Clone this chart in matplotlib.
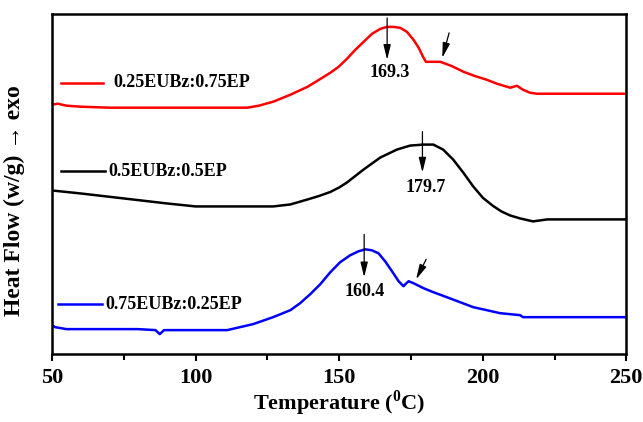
"""
DSC curves of EUBz:EP blends, heat flow vs temperature.
"""

import matplotlib
matplotlib.use("Agg")
import matplotlib.pyplot as plt
from matplotlib.ticker import MultipleLocator

plt.rcParams["font.family"] = ["Liberation Serif", "DejaVu Sans"]
plt.rcParams["font.weight"] = "bold"
plt.rcParams["mathtext.fontset"] = "custom"
plt.rcParams["mathtext.rm"] = "Liberation Serif:bold"
plt.rcParams["mathtext.bf"] = "Liberation Serif:bold"

# 0.25EUBz:0.75EP (red)
T_RED = [50, 52, 55, 60, 70, 80, 90, 100, 110, 118, 122, 127, 133, 139, 143,
         146.9, 149.8, 152.7, 155.6, 158.5, 161.4, 164.3, 166.6, 168.9, 171.3,
         173.6, 175.9, 177.7, 179.2, 180.2, 185.2, 189, 193.3, 197, 201.4, 205,
         209.6, 211.9, 214, 216.5, 218.8, 250]
HF_RED = [2.50, 2.51, 2.49, 2.48, 2.47, 2.47, 2.47, 2.47, 2.47, 2.47, 2.49, 2.53,
          2.60, 2.68, 2.75, 2.82, 2.88, 2.96, 3.05, 3.13, 3.21, 3.26, 3.28, 3.28,
          3.27, 3.23, 3.15, 3.07, 2.98, 2.93, 2.93, 2.89, 2.83, 2.79, 2.75, 2.71,
          2.67, 2.69, 2.65, 2.62, 2.61, 2.61]

# 0.5EUBz:0.5EP (black)
T_BLACK = [50, 60, 75, 90, 100, 110, 127, 133, 139, 143, 146.9, 150, 152.7, 158.5,
           164.3, 170.1, 174.7, 179.3, 182.8, 186.2, 189.7, 193.2, 196.7, 200.1,
           203.6, 206.5, 209.5, 213, 217.5, 222.5, 250]
HF_BLACK = [1.64, 1.61, 1.56, 1.51, 1.48, 1.48, 1.48, 1.50, 1.55, 1.585, 1.625,
            1.67, 1.72, 1.85, 1.97, 2.05, 2.09, 2.10, 2.10, 2.05, 1.95, 1.82, 1.68,
            1.565, 1.485, 1.43, 1.39, 1.36, 1.33, 1.35, 1.35]

# 0.75EUBz:0.25EP (blue)
T_BLUE = [50, 51, 55, 60, 70, 80, 86, 87.5, 89, 100, 111, 120, 127, 133, 136.4,
          139.9, 143.4, 146.9, 150.3, 153.8, 156.7, 159.1, 161.4, 163.7, 166.0,
          168.4, 170.7, 172.4, 173.4, 174.2, 175.9, 179.4, 182.8, 187.5, 192.1,
          196.7, 201.4, 206.0, 213.0, 214, 250]
HF_BLUE = [0.29, 0.27, 0.25, 0.25, 0.25, 0.25, 0.24, 0.20, 0.24, 0.24, 0.24, 0.30,
           0.37, 0.44, 0.51, 0.60, 0.70, 0.82, 0.92, 0.99, 1.03, 1.05, 1.04, 1.01,
           0.93, 0.83, 0.73, 0.68, 0.71, 0.73, 0.71, 0.66, 0.62, 0.57, 0.52, 0.47,
           0.44, 0.41, 0.39, 0.37, 0.37]

LABELS = ["0.25EUBz:0.75EP", "0.5EUBz:0.5EP", "0.75EUBz:0.25EP"]
COLORS = ["#ff0000", "#000000", "#0000ff"]

# peak annotations: (text, arrow T, arrow top, arrow bottom, text T, text HF)
PEAKS = [
    ("169.3", 166.7, 3.37, 2.95, 167.5, 2.82),
    ("179.7", 179.0, 2.23, 1.82, 180.3, 1.67),
    ("160.4", 158.7, 1.20, 0.77, 159.0, 0.63),
]
# shoulder arrows: (T start, HF start, T end, HF end)
SHOULDERS = [
    (188.3, 3.22, 185.9, 2.97),
    (180.3, 0.95, 176.8, 0.75),
]

# legend sample positions in axes fraction: (x0, x1, y, text x)
LEGEND_POS = [
    (0.016, 0.089, 0.798, 0.106),
    (0.016, 0.092, 0.537, 0.098),
    (0.010, 0.087, 0.147, 0.092),
]

fig = plt.figure(figsize=(6.43, 4.22), dpi=100)
ax = fig.add_axes([0.081, 0.161, 0.893, 0.806])

series = [(T_RED, HF_RED), (T_BLACK, HF_BLACK), (T_BLUE, HF_BLUE)]
for (t, hf), color in zip(series, COLORS):
    ax.plot(t, hf, color=color, lw=1.8, solid_joinstyle="round")

for (x0, x1, y, xt), label, color in zip(LEGEND_POS, LABELS, COLORS):
    ax.plot([x0, x1], [y, y], color=color, lw=1.8, transform=ax.transAxes)
    ax.text(xt, y, label, transform=ax.transAxes, fontsize=13,
            fontweight="bold", va="center", ha="left")

arrow_kw = dict(arrowstyle="-|>,head_length=0.9,head_width=0.22",
                color="black", lw=0.9, shrinkA=0, shrinkB=0)
for text, xa, ytop, ybot, xt, yt in PEAKS:
    ax.annotate("", xy=(xa, ybot), xytext=(xa, ytop), arrowprops=arrow_kw)
    ax.text(xt, yt, text, fontsize=13, fontweight="bold", ha="center", va="center")
for xs, ys, xe, ye in SHOULDERS:
    ax.annotate("", xy=(xe, ye), xytext=(xs, ys), arrowprops=arrow_kw)

ax.set_xlim(50, 250)
ax.set_ylim(0, 3.41)
ax.xaxis.set_major_locator(MultipleLocator(50))
ax.xaxis.set_minor_locator(MultipleLocator(25))
ax.set_yticks([])
ax.tick_params(axis="x", which="major", direction="out", length=5, width=1.5,
               labelsize=16, pad=5)
ax.tick_params(axis="x", which="minor", direction="out", length=4, width=1.5)
for lab in ax.get_xticklabels():
    lab.set_fontweight("bold")
for s in ax.spines.values():
    s.set_linewidth(1.8)

ax.set_xlabel(r"Temperature ($^{\mathbf{0}}$C)", fontsize=16, fontweight="bold", labelpad=0)
ax.set_ylabel("Heat Flow (w/g) \u2192 exo", fontsize=17, fontweight="bold")
ax.yaxis.set_label_coords(-0.047, 0.45)

fig.savefig("out.png", dpi=100)
